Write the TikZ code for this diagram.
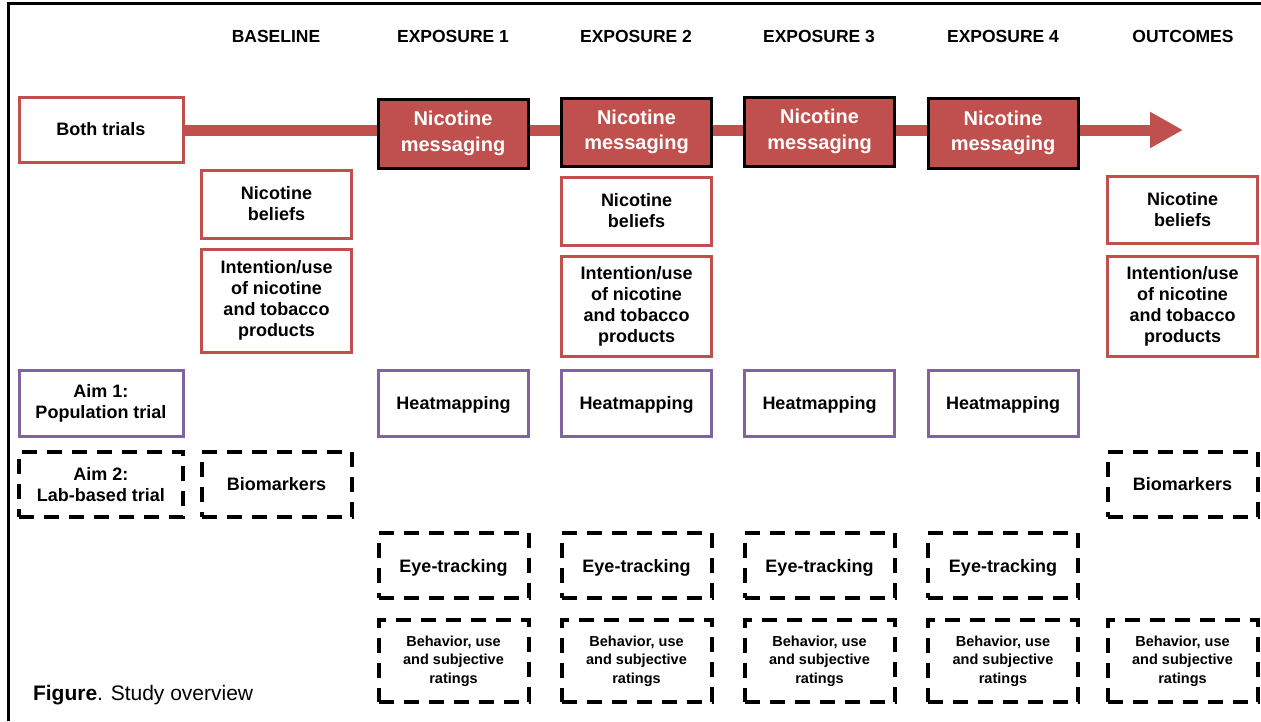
\documentclass[tikz,border=0pt]{standalone}
\usepackage{fontspec}
\setmainfont{Liberation Sans}
\usetikzlibrary{arrows.meta}
\definecolor{tred}{HTML}{C0504D}
\definecolor{tpurple}{HTML}{8064A2}
\begin{document}
\begin{tikzpicture}[x=1pt,y=-1pt,
  every node/.style={inner sep=0pt,outer sep=0pt,align=center},
  hdr/.style={font=\bfseries\fontsize{17.5}{20}\selectfont},
  txt/.style={font=\bfseries\fontsize{18}{21}\selectfont},
  nodepth/.style={text depth=0pt},
  redbox/.style={txt,draw=tred,line width=3pt,fill=white},
  msgbox/.style={draw=black,line width=3pt,fill=tred,text=white,font=\bfseries\fontsize{20}{25.5}\selectfont,minimum width=150pt,minimum height=69pt},
  purplebox/.style={txt,draw=tpurple,line width=3pt,fill=white},
  dashbox/.style={txt,draw=black,line width=4pt,dash pattern=on 15pt off 10pt},
  smalltxt/.style={font=\bfseries\fontsize{14.5}{18.5}\selectfont},
  colA/.style={minimum width=164pt},
  colB/.style={minimum width=150pt}
]
\useasboundingbox (0,0) rectangle (1261,721);
\fill[white] (0,0) rectangle (1261,721);
% outer frame (left and top edges)
\draw[line width=3pt] (8.5,721) -- (8.5,3.5) -- (1261,3.5);

% headers
\node[hdr] (hbase) at (276,36.5) {BASELINE};
\node[hdr] (hex1) at (453,36.5) {EXPOSURE 1};
\node[hdr] (hex2) at (636,36.5) {EXPOSURE 2};
\node[hdr] (hex3) at (819,36.5) {EXPOSURE 3};
\node[hdr] (hex4) at (1003,36.5) {EXPOSURE 4};
\node[hdr] (hout) at (1183,36.5) {OUTCOMES};

% both trials + arrow
\node[redbox,colA,minimum height=65pt] (both) at (101,129.5) {Both trials};
\coordinate (tip) at (1183,130);
\draw[tred,line width=11pt,-{Triangle[length=33pt,width=34pt]}] (both.east |- 0,130) -- (tip);

% messaging
\node[msgbox] (msg1) at (453,133.5) {Nicotine\\messaging};
\node[msgbox,minimum height=68pt] (msg2) at (636.5,132) {Nicotine\\messaging};
\node[msgbox] (msg3) at (819.5,131.5) {Nicotine\\messaging};
\node[msgbox,minimum height=70pt] (msg4) at (1003,133) {Nicotine\\messaging};

% beliefs / intention
\node[redbox,colB,minimum height=68pt] (bel0) at (276.5,204) {Nicotine\\beliefs};
\node[redbox,colB,minimum height=103pt] (int0) at (276.5,300.5) {Intention/use\\of nicotine\\and tobacco\\products};
\node[redbox,colB,minimum height=68pt] (bel2) at (636.5,211) {Nicotine\\beliefs};
\node[redbox,colB,minimum height=100pt] (int2) at (636.5,306) {Intention/use\\of nicotine\\and tobacco\\products};
\node[redbox,colB,minimum height=67pt] (bel5) at (1182.5,209.5) {Nicotine\\beliefs};
\node[redbox,colB,minimum height=100pt] (int5) at (1182.5,306) {Intention/use\\of nicotine\\and tobacco\\products};

% aim 1 / heatmapping
\node[purplebox,colA,minimum height=66pt] (aim1) at (101,403) {Aim 1:\\Population trial};
\node[purplebox,nodepth,colB,minimum height=66pt] (heat1) at (453.5,403) {Heatmapping};
\node[purplebox,nodepth,colB,minimum height=66pt] (heat2) at (636.5,403) {Heatmapping};
\node[purplebox,nodepth,colB,minimum height=66pt] (heat3) at (819.5,403) {Heatmapping};
\node[purplebox,nodepth,colB,minimum height=66pt] (heat4) at (1003,403) {Heatmapping};

% aim 2 / biomarkers
\node[dashbox,colA,minimum height=65pt] (aim2) at (101,484.5) {Aim 2:\\Lab-based trial};
\node[dashbox,colB,minimum height=65pt] (bio0) at (276.5,484.5) {Biomarkers};
\node[dashbox,colB,minimum height=65pt] (bio5) at (1182.5,484.5) {Biomarkers};

% eye-tracking
\node[dashbox,nodepth,colB,minimum height=65pt] (eye1) at (453.5,565.5) {Eye-tracking};
\node[dashbox,nodepth,colB,minimum height=65pt] (eye2) at (636.5,565.5) {Eye-tracking};
\node[dashbox,nodepth,colB,minimum height=65pt] (eye3) at (819.5,565.5) {Eye-tracking};
\node[dashbox,nodepth,colB,minimum height=65pt] (eye4) at (1003,565.5) {Eye-tracking};

% behavior
\node[dashbox,smalltxt,colB,minimum height=82pt] (beh1) at (453.5,661) {Behavior, use\\and subjective\\ratings};
\node[dashbox,smalltxt,colB,minimum height=82pt] (beh2) at (636.5,661) {Behavior, use\\and subjective\\ratings};
\node[dashbox,smalltxt,colB,minimum height=82pt] (beh3) at (819.5,661) {Behavior, use\\and subjective\\ratings};
\node[dashbox,smalltxt,colB,minimum height=82pt] (beh4) at (1003,661) {Behavior, use\\and subjective\\ratings};
\node[dashbox,smalltxt,colB,minimum height=82pt] (beh5) at (1182.5,661) {Behavior, use\\and subjective\\ratings};

% caption
\node[anchor=base west,font=\fontsize{21}{25}\selectfont] (cap) at (33,700) {\textbf{Figure}. Study overview};
\end{tikzpicture}
\end{document}
